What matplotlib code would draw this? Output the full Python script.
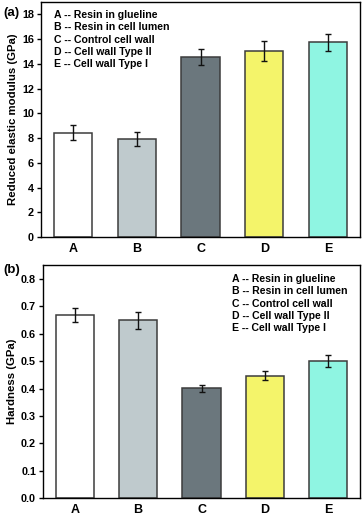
import matplotlib
matplotlib.use('Agg')
import matplotlib.pyplot as plt

plt.rcParams['font.family'] = ['Liberation Sans', 'DejaVu Sans']
plt.rcParams['font.weight'] = 'bold'

categories = ['A', 'B', 'C', 'D', 'E']
legend_lines = ['A -- Resin in glueline', 'B -- Resin in cell lumen',
                'C -- Control cell wall', 'D -- Cell wall Type II', 'E -- Cell wall Type I']
bar_colors = ['#ffffff', '#bfcacd', '#6b777d', '#f4f46a', '#8ff5e2']

modulus = [8.45, 7.9, 14.55, 15.05, 15.75]
modulus_err = [0.57, 0.58, 0.65, 0.83, 0.67]

hardness = [0.669, 0.649, 0.401, 0.447, 0.501]
hardness_err = [0.026, 0.031, 0.012, 0.017, 0.022]


def draw_panel(ax, vals, errs, ylim, yticks, fmt, ylabel, leg_x, leg_y):
    x = range(len(categories))
    ax.bar(x, vals, width=0.6, color=bar_colors, edgecolor='#3c3c3c', linewidth=1.1, zorder=2)
    ax.errorbar(x, vals, yerr=errs, fmt='none', ecolor='#111111', elinewidth=1.0,
                capsize=2.5, capthick=1.0, zorder=3)
    ax.set_xlim(-0.5, 4.5)
    ax.set_ylim(*ylim)
    ax.set_yticks(yticks)
    ax.set_yticklabels([fmt.format(t) for t in yticks], fontsize=7.8, fontweight='bold')
    ax.set_xticks(list(x))
    ax.set_xticklabels(categories, fontsize=9, fontweight='bold')
    ax.tick_params(axis='y', direction='out', length=3, width=1, pad=2)
    ax.tick_params(axis='x', direction='in', length=3, width=1, pad=4)
    ax.set_ylabel(ylabel, fontsize=8.2, fontweight='bold', labelpad=3)
    for s in ax.spines.values():
        s.set_linewidth(1.0)
    for i, line in enumerate(legend_lines):
        ax.text(leg_x, leg_y - i * 0.0525, line, transform=ax.transAxes, fontsize=7.6,
                fontweight='bold', va='center', ha='left')


fig = plt.figure(figsize=(3.62, 5.16), dpi=100)

ax1 = fig.add_axes([0.1133, 0.5407, 0.8812, 0.4553])
draw_panel(ax1, modulus, modulus_err, (0, 19), list(range(0, 19, 2)), '{:d}',
           'Reduced elastic modulus (GPa)', 0.04, 0.945)

ax2 = fig.add_axes([0.1188, 0.0343, 0.8757, 0.4531])
ticks_b = [i / 10 for i in range(9)]
draw_panel(ax2, hardness, hardness_err, (0, 0.853), ticks_b, '{:.1f}',
           'Hardness (GPa)', 0.597, 0.938)

fig.text(3 / 362, 1 - 13 / 516, '(a)', fontsize=9.5, fontweight='bold', va='center', ha='left')
fig.text(3 / 362, 1 - 270 / 516, '(b)', fontsize=9.5, fontweight='bold', va='center', ha='left')

fig.savefig('out.png', dpi=100)
